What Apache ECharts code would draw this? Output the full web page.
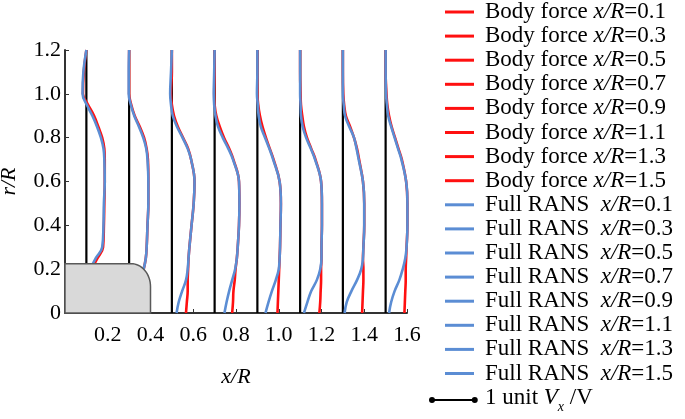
<!DOCTYPE html>
<html>
<head>
<meta charset="utf-8">
<script src="https://cdn.jsdelivr.net/npm/echarts@6/dist/echarts.min.js"></script>
<style>
  html, body { margin: 0; padding: 0; background: #fff; }
  #chart { width: 685px; height: 419px; }
</style>
</head>
<body>
<div id="chart"></div>
<script>
// stations x/R
const stations = [0.1, 0.3, 0.5, 0.7, 0.9, 1.1, 1.3, 1.5]
// r/R levels the profiles are read at
const rLevels = [1.2, 1.1, 1.0, 0.95, 0.9, 0.85, 0.8, 0.75, 0.7, 0.6, 0.5, 0.4, 0.3, 0.25, 0.2, 0.15, 0.1, 0.05, 0]
// profile deflection in units of Vx/V (null = inside the hub)
const bodyForce = [
  [0, -0.06, -0.08, 0.04, 0.18, 0.28, 0.37, 0.42, 0.43, 0.43, 0.42, 0.41, 0.39, 0.26, 0.12, null, null, null, null],
  [0, 0, 0, 0.05, 0.13, 0.25, 0.35, 0.41, 0.44, 0.45, 0.45, 0.43, 0.41, 0.39, 0.34, null, null, null, null],
  [0, 0, -0.02, 0, 0.05, 0.14, 0.26, 0.38, 0.45, 0.53, 0.51, 0.46, 0.41, 0.39, 0.38, 0.37, 0.37, 0.35, 0.33],
  [0, 0, -0.01, 0, 0.04, 0.12, 0.22, 0.34, 0.44, 0.57, 0.58, 0.57, 0.54, 0.52, 0.49, 0.47, 0.44, 0.43, 0.41],
  [0, 0, 0, 0.02, 0.06, 0.12, 0.20, 0.29, 0.38, 0.52, 0.55, 0.54, 0.53, 0.52, 0.51, 0.50, 0.49, 0.48, 0.47],
  [0, 0, 0.01, 0.02, 0.05, 0.09, 0.16, 0.26, 0.36, 0.49, 0.51, 0.51, 0.50, 0.50, 0.49, 0.49, 0.48, 0.47, 0.45],
  [0, 0, 0.01, 0.03, 0.07, 0.17, 0.26, 0.33, 0.38, 0.47, 0.50, 0.50, 0.48, 0.47, 0.48, 0.48, 0.47, 0.46, 0.45],
  [0, 0, 0.02, 0.04, 0.08, 0.14, 0.22, 0.30, 0.38, 0.48, 0.51, 0.51, 0.49, 0.48, 0.47, 0.47, 0.46, 0.45, 0.44]
]
const fullRans = [
  [0, -0.07, -0.09, 0.01, 0.14, 0.25, 0.34, 0.40, 0.42, 0.43, 0.41, 0.40, 0.37, 0.22, 0.09, null, null, null, null],
  [0, -0.01, -0.01, 0.04, 0.12, 0.23, 0.33, 0.40, 0.43, 0.45, 0.45, 0.43, 0.41, 0.39, 0.34, null, null, null, null],
  [0, -0.02, -0.04, -0.02, 0.02, 0.12, 0.25, 0.37, 0.45, 0.53, 0.51, 0.46, 0.41, 0.39, 0.37, 0.33, 0.24, 0.16, 0.11],
  [0, -0.01, -0.02, -0.01, 0.02, 0.08, 0.19, 0.32, 0.43, 0.57, 0.58, 0.57, 0.54, 0.52, 0.48, 0.41, 0.34, 0.28, 0.23],
  [0, 0, -0.01, 0.01, 0.03, 0.08, 0.18, 0.28, 0.37, 0.52, 0.55, 0.54, 0.53, 0.52, 0.50, 0.43, 0.34, 0.26, 0.19],
  [0, 0, 0, 0.01, 0.02, 0.06, 0.14, 0.25, 0.35, 0.49, 0.51, 0.51, 0.50, 0.50, 0.47, 0.39, 0.26, 0.17, 0.09],
  [0, 0, 0, 0.02, 0.05, 0.15, 0.26, 0.32, 0.37, 0.47, 0.50, 0.50, 0.48, 0.47, 0.43, 0.33, 0.20, 0.09, 0.04],
  [0, 0, 0.01, 0.03, 0.06, 0.13, 0.21, 0.29, 0.37, 0.48, 0.51, 0.51, 0.49, 0.46, 0.40, 0.32, 0.21, 0.13, 0.08]
]
const xTicks = [0, 0.2, 0.4, 0.6, 0.8, 1.0, 1.2, 1.4, 1.6]
const yTicks = [0, 0.2, 0.4, 0.6, 0.8, 1.0, 1.2]
const unitScale = 0.2 // 1 unit Vx/V drawn as 0.2 x/R
// hub outline
const hubLength = 0.4
const hubRadius = 0.225
const hubCorner = [0.09, 0.105]

const FONT = 'Liberation Serif'
const RED = '#ff1010'
const BLUE = '#5b8dd4'

const chart = echarts.init(document.getElementById('chart'))

function profile(idx, vals) {
  const pts = []
  vals.forEach((v, i) => {
    if (v !== null) pts.push([stations[idx] + unitScale * v, rLevels[i]])
  })
  return pts
}

const series = []
const legendNames = []
// black station lines
stations.forEach(s => {
  series.push({
    type: 'line', silent: true, symbol: 'none', z: 1,
    lineStyle: { color: '#000', width: 2.2 },
    data: [[s, 0], [s, yTicks[yTicks.length - 1]]]
  })
})
stations.forEach((s, i) => {
  const name = 'Body force x/R=' + s.toFixed(1)
  legendNames.push(name)
  series.push({
    name, type: 'line', symbol: 'none', smooth: 0.4, z: 2,
    lineStyle: { color: RED, width: 2.6 }, itemStyle: { color: RED },
    data: profile(i, bodyForce[i])
  })
})
stations.forEach((s, i) => {
  const name = 'Full RANS  x/R=' + s.toFixed(1)
  legendNames.push(name)
  series.push({
    name, type: 'line', symbol: 'none', smooth: 0.4, z: 3,
    lineStyle: { color: BLUE, width: 2.6 }, itemStyle: { color: BLUE },
    data: profile(i, fullRans[i])
  })
})
// hub body drawn on top
series.push({
  type: 'custom', silent: true, z: 10,
  data: [[0, 0]],
  renderItem(params, api) {
    const pts = [api.coord([0, 0]), api.coord([0, hubRadius])]
    const cx = hubLength - hubCorner[0], cy = hubRadius - hubCorner[1]
    for (let k = 0; k <= 16; k++) {
      const a = Math.PI / 2 * (1 - k / 16)
      pts.push(api.coord([cx + hubCorner[0] * Math.cos(a), cy + hubCorner[1] * Math.sin(a)]))
    }
    pts.push(api.coord([hubLength, 0]))
    return {
      type: 'polygon', shape: { points: pts },
      style: { fill: '#d9d9d9', stroke: '#595959', lineWidth: 1.5 }
    }
  }
})

const option = {
  animation: false,
  grid: { left: 65, top: 50, width: 342, height: 263, outerBoundsMode: 'none' },
  legend: {
    data: legendNames, orient: 'vertical', left: 445, top: 0, padding: 0,
    itemGap: 0.1, itemWidth: 29, itemHeight: 3, icon: 'rect',
    selectedMode: false,
    formatter: n => n.replace('x/R', '{i|x/R}'),
    textStyle: {
      fontFamily: FONT, fontSize: 23, color: '#000', lineHeight: 24, padding: [0, 0, 0, 6],
      rich: { i: { fontFamily: FONT, fontSize: 23, fontStyle: 'italic', color: '#000', lineHeight: 24 } }
    }
  },
  xAxis: {
    type: 'value', min: xTicks[0], max: xTicks[xTicks.length - 1], interval: 0.2,
    name: 'x/R', nameLocation: 'middle', nameGap: 53,
    nameTextStyle: { fontFamily: FONT, fontSize: 22, fontStyle: 'italic', color: '#000' },
    axisLine: { lineStyle: { color: '#333', width: 2 } },
    axisTick: { inside: true, length: 4, lineStyle: { color: '#333' } },
    axisLabel: {
      fontFamily: FONT, fontSize: 22, color: '#000', margin: 11,
      formatter: v => v === 0 ? '' : v.toFixed(1)
    },
    splitLine: { show: false }
  },
  yAxis: {
    type: 'value', min: yTicks[0], max: yTicks[yTicks.length - 1], interval: 0.2,
    name: 'r/R', nameLocation: 'middle', nameGap: 45, nameRotate: 90,
    nameTextStyle: { fontFamily: FONT, fontSize: 22, fontStyle: 'italic', color: '#000' },
    axisLine: { show: true, lineStyle: { color: '#333', width: 2 } },
    axisTick: { show: true, inside: true, length: 4, lineStyle: { color: '#333' } },
    axisLabel: {
      fontFamily: FONT, fontSize: 22, color: '#000', margin: 4,
      formatter: v => v === 0 ? '0' : v.toFixed(1)
    },
    splitLine: { show: false }
  },
  series
}
chart.setOption(option)

// scale bar: 1 unit of Vx/V
const p0 = chart.convertToPixel({ gridIndex: 0 }, [0, 0])
const p1 = chart.convertToPixel({ gridIndex: 0 }, [unitScale, 0])
const barLen = p1[0] - p0[0]
const barX = 432, barY = 400
chart.setOption({
  graphic: [
    { type: 'line', shape: { x1: barX, y1: barY, x2: barX + barLen, y2: barY }, style: { stroke: '#000', lineWidth: 2 } },
    { type: 'circle', shape: { cx: barX, cy: barY, r: 3 }, style: { fill: '#000' } },
    { type: 'circle', shape: { cx: barX + barLen, cy: barY, r: 3 }, style: { fill: '#000' } },
    {
      type: 'text', left: 485, top: barY - 14,
      style: {
        text: '{n|1 unit }{i|V}{s|x}{n| /V}',
        rich: {
          n: { fontFamily: FONT, fontSize: 23, fill: '#000', lineHeight: 28, verticalAlign: 'top' },
          i: { fontFamily: FONT, fontSize: 23, fontStyle: 'italic', fill: '#000', lineHeight: 28, verticalAlign: 'top' },
          s: { fontFamily: FONT, fontSize: 14, fontStyle: 'italic', fill: '#000', lineHeight: 28, verticalAlign: 'bottom' }
        }
      }
    }
  ]
})
</script>
</body>
</html>
